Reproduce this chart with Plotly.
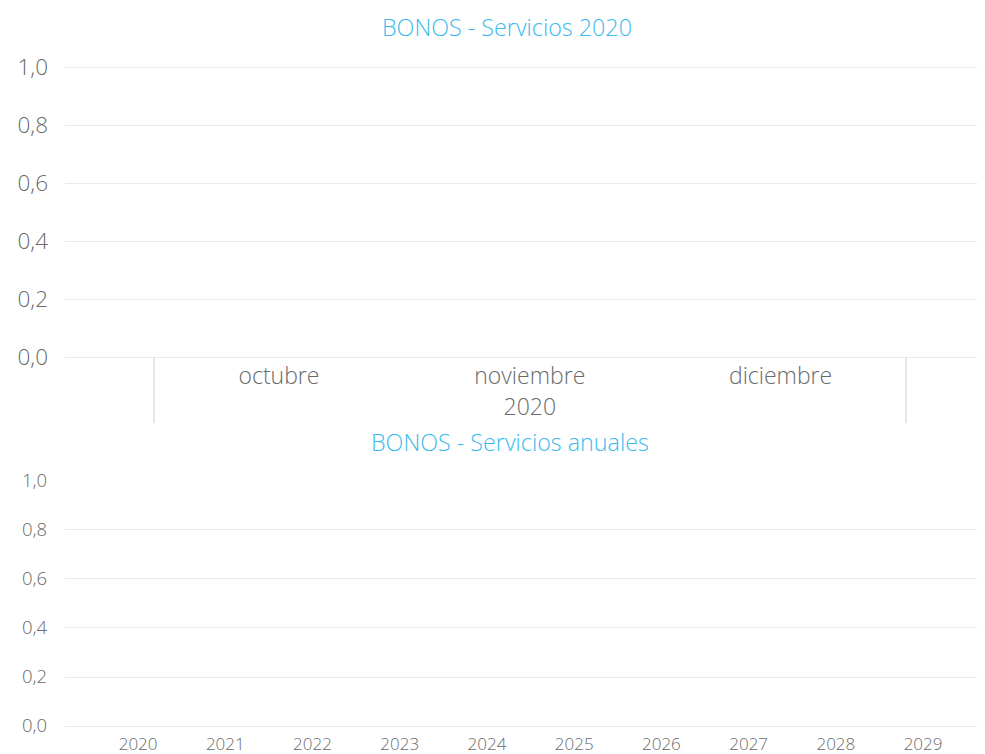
import plotly.graph_objects as go

# ---- data ----
months = ["octubre", "noviembre", "diciembre"]
month_year = ["2020", "2020", "2020"]
monthly_values = [None, None, None]

years = ["2020", "2021", "2022", "2023", "2024", "2025", "2026", "2027", "2028", "2029"]
annual_values = [None, None, None, None, None, None, None, None, None, None]

title_top = "BONOS - Servicios 2020"
title_bottom = "BONOS - Servicios anuales"

OFF = 8  # default page margin of the html body
W, H = 985 - OFF, 754 - OFF
FONT = "Segoe UI, Open Sans, sans-serif"
TICK = "#6a6a6a"
GRID = "#e9e9e9"
TITLE = "#3BBBEC"
L = 65 - OFF


def py(px):
    return 1 - (px - OFF) / H


def px_x(px):
    return (px - OFF - L) / (W - L)


fig = go.Figure()
fig.add_trace(go.Bar(x=[month_year, months], y=monthly_values, xaxis="x", yaxis="y",
                     marker_color="#118DFF", hoverinfo="skip", showlegend=False))
fig.add_trace(go.Bar(x=years, y=annual_values, xaxis="x2", yaxis="y2",
                     marker_color="#118DFF", hoverinfo="skip", showlegend=False))

fig.update_layout(
    width=W, height=H,
    margin=dict(l=L, r=0, t=0, b=0, autoexpand=False),
    paper_bgcolor="white", plot_bgcolor="white",
    separators=",.",
    font=dict(family=FONT, color=TICK),
    xaxis=dict(
        type="multicategory", domain=[0, 1], anchor="y",
        range=[-0.853, 2.815], showgrid=False, zeroline=False, showline=False,
        ticks="", tickfont=dict(size=23, color=TICK, weight=300),
        showdividers=True, dividercolor="#e6e6e6", dividerwidth=2,
        ticklabelstandoff=3,
        automargin=False, fixedrange=True,
    ),
    yaxis=dict(
        domain=[py(357), py(66)], anchor="x", range=[0, 1.004], dtick=0.2,
        tickformat=".1f", showgrid=True, gridcolor=GRID, gridwidth=1,
        zeroline=True, zerolinecolor=GRID, zerolinewidth=1,
        showline=False, ticks="", ticklabelstandoff=16,
        tickfont=dict(size=22.5, color=TICK, weight=300), automargin=False, fixedrange=True,
    ),
    xaxis2=dict(
        type="category", domain=[0, 1], anchor="y2",
        range=[-0.838, 9.71], showgrid=False, zeroline=False, showline=False,
        ticks="", ticklabelstandoff=6,
        tickfont=dict(size=17, color=TICK, weight=300), automargin=False, fixedrange=True,
    ),
    yaxis2=dict(
        domain=[py(726), py(480)], anchor="x2", range=[0, 1.004], dtick=0.2,
        tickformat=".1f", showgrid=True, gridcolor=GRID, gridwidth=1,
        zeroline=True, zerolinecolor=GRID, zerolinewidth=1,
        showline=False, ticks="", ticklabelstandoff=17,
        tickfont=dict(size=18.5, color=TICK, weight=300), automargin=False, fixedrange=True,
    ),
    annotations=[
        dict(text=title_top, xref="paper", yref="paper", x=px_x(507), y=py(27),
             xanchor="center", yanchor="middle", showarrow=False,
             font=dict(size=23.3, color=TITLE, family=FONT, weight=300)),
        dict(text=title_bottom, xref="paper", yref="paper", x=px_x(510), y=py(442),
             xanchor="center", yanchor="middle", showarrow=False,
             font=dict(size=23.3, color=TITLE, family=FONT, weight=300)),
    ],
)

fig.write_html("out.html")
